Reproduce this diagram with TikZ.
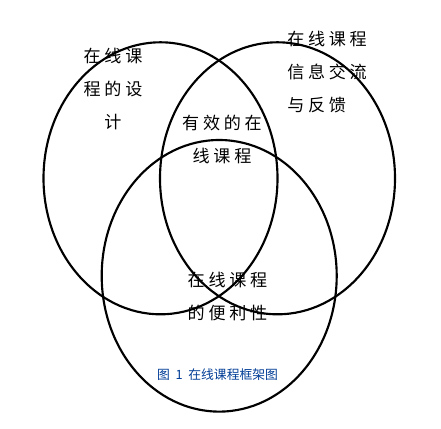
\documentclass[tikz,border=0pt]{standalone}
\usepackage{fontspec}
\newfontfamily\cjk{Noto Sans CJK SC}
\newfontfamily\cjkspaced{Noto Sans CJK SC}[LetterSpace=22]
\definecolor{capblue}{RGB}{0,60,150}
\tikzset{
  venn/.style={draw=black, line width=1.6pt},
  lbl/.style={font=\cjkspaced\fontsize{12.8}{24.75}\selectfont, inner sep=0pt},
  captext/.style={font=\cjk\fontsize{9.6}{11}\selectfont, text=capblue, inner sep=0pt}
}
\begin{document}
\begin{tikzpicture}[x=0.75pt, y=-0.75pt]
\useasboundingbox (0,0) rectangle (441,428);
\draw[venn] (160.5,178.3) ellipse [x radius=117, y radius=136];
\draw[venn] (277.5,178.3) ellipse [x radius=117.5, y radius=136];
\draw[venn] (219.2,275.8) ellipse [x radius=117.5, y radius=135.8];
\node[lbl, align=center] (design) at (113,89) {在线课\\程的设\\计};
\node[lbl, align=left, anchor=west] (feedback) at (287,72) {在线课程\\信息交流\\与反馈};
\node[lbl, align=center] (effective) at (222,139) {有效的在\\线课程};
\node[lbl, align=center] (convenience) at (227.5,297) {在线课程\\的便利性};
\node[captext] (caption) at (217.5,375) {图\ \ 1\ \ 在线课程框架图};
\end{tikzpicture}
\end{document}
